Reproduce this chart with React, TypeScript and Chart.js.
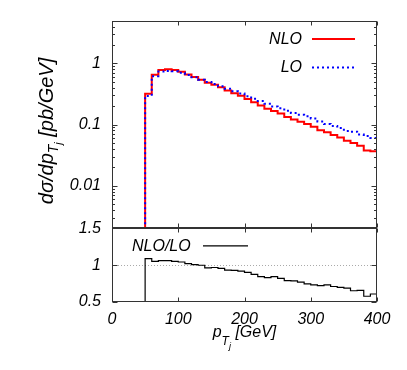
import React, { useEffect, useRef } from "react";
import { Chart, registerables } from "chart.js";

Chart.register(...registerables);

// ---- data (10 GeV bins from 50 to 400 GeV) ----
const BIN_EDGES = [50, 60, 70, 80, 90, 100, 110, 120, 130, 140, 150, 160, 170, 180, 190, 200, 210, 220, 230, 240, 250, 260, 270, 280, 290, 300, 310, 320, 330, 340, 350, 360, 370, 380, 390, 400];

const NLO = [0.32, 0.65, 0.78, 0.80, 0.78, 0.73, 0.66, 0.60, 0.54, 0.48, 0.445, 0.405, 0.36, 0.325, 0.296, 0.262, 0.232, 0.205, 0.181, 0.166, 0.151, 0.133, 0.121, 0.111, 0.102, 0.092, 0.081, 0.0747, 0.0676, 0.0614, 0.0542, 0.0498, 0.045, 0.0375, 0.0366];

const LO = [0.294, 0.617, 0.734, 0.753, 0.741, 0.699, 0.646, 0.595, 0.54, 0.497, 0.459, 0.424, 0.386, 0.35, 0.322, 0.29, 0.265, 0.243, 0.218, 0.197, 0.184, 0.168, 0.154, 0.144, 0.137, 0.126, 0.112, 0.102, 0.095, 0.088, 0.0787, 0.0763, 0.0684, 0.0649, 0.0601];

const RATIO = [1.089, 1.053, 1.062, 1.062, 1.053, 1.044, 1.022, 1.009, 1.0, 0.965, 0.969, 0.956, 0.933, 0.929, 0.92, 0.902, 0.876, 0.844, 0.831, 0.844, 0.822, 0.791, 0.787, 0.769, 0.747, 0.733, 0.724, 0.733, 0.711, 0.698, 0.689, 0.653, 0.658, 0.578, 0.609];

const X_TICKS = [0, 100, 200, 300, 400];
const Y_TOP_TICKS = [0.01, 0.1, 1];
const Y_BOT_TICKS = [0.5, 1, 1.5];

const FONT = "'Liberation Sans', Arial, sans-serif";
const FRAME = "#333333";

function histPoints(vals: number[], floor: number) {
  const pts: { x: number; y: number }[] = [{ x: BIN_EDGES[0], y: floor }];
  vals.forEach((v, i) => pts.push({ x: BIN_EDGES[i], y: v }));
  const last = BIN_EDGES[BIN_EDGES.length - 1];
  pts.push({ x: last, y: vals[vals.length - 1] });
  pts.push({ x: last, y: floor });
  return pts;
}

function logTickList(min: number, max: number) {
  const out: { v: number; major: boolean }[] = [];
  for (let e = -4; e <= 2; e++) {
    for (let k = 1; k <= 9; k++) {
      const v = k * Math.pow(10, e);
      if (v >= min * 0.999 && v <= max * 1.001) out.push({ v, major: k === 1 });
    }
  }
  return out;
}

type Seg = { t: string; size: number; dy: number };

function segWidth(ctx: CanvasRenderingContext2D, segs: Seg[]) {
  let w = 0;
  segs.forEach((s) => {
    ctx.font = `italic ${s.size}px ${FONT}`;
    w += ctx.measureText(s.t).width;
  });
  return w;
}

function drawSegs(ctx: CanvasRenderingContext2D, x: number, y: number, segs: Seg[]) {
  let cx = x;
  segs.forEach((s) => {
    ctx.font = `italic ${s.size}px ${FONT}`;
    ctx.fillText(s.t, cx, y + s.dy);
    cx += ctx.measureText(s.t).width;
  });
}

const Y_TITLE: Seg[] = [
  { t: "dσ/dp", size: 20, dy: 0 },
  { t: "T", size: 14, dy: 5 },
  { t: "j", size: 11, dy: 9 },
  { t: " [pb/GeV]", size: 20, dy: 0 },
];
const X_TITLE: Seg[] = [
  { t: "p", size: 16, dy: 0 },
  { t: "T", size: 12, dy: 8 },
  { t: "j", size: 9, dy: 12 },
  { t: " [GeV]", size: 16, dy: 0 },
];

const tickFont = { family: FONT, size: 16, style: "italic" as const };

const decoPlugin = {
  id: "deco",
  beforeDatasetsDraw(c: any) {
    const { ctx, scales } = c;
    const yb = scales.y2;
    const py = Math.round(yb.getPixelForValue(1)) + 0.5;
    ctx.save();
    ctx.strokeStyle = "#aaaaaa";
    ctx.lineWidth = 1;
    ctx.setLineDash([1, 2]);
    ctx.beginPath();
    ctx.moveTo(scales.x.left, py);
    ctx.lineTo(scales.x.right, py);
    ctx.stroke();
    ctx.restore();
  },
  afterDatasetsDraw(c: any) {
    const { ctx, scales } = c;
    const x = scales.x;
    const L = Math.round(x.left) + 0.5;
    const R = Math.round(x.right) - 0.5;
    ctx.save();
    ctx.strokeStyle = FRAME;
    ctx.lineWidth = 1;
    const panels = [
      { s: scales.y, log: true },
      { s: scales.y2, log: false },
    ];
    panels.forEach(({ s, log }) => {
      const T = Math.round(s.top) + 0.5;
      const B = Math.round(s.bottom) - 0.5;
      ctx.beginPath();
      X_TICKS.forEach((v) => {
        const px = Math.round(x.getPixelForValue(v)) + 0.5;
        ctx.moveTo(px, T);
        ctx.lineTo(px, T + 4);
        ctx.moveTo(px, B);
        ctx.lineTo(px, B - 4);
      });
      const list = log ? logTickList(s.min, s.max) : Y_BOT_TICKS.map((v) => ({ v, major: true }));
      list.forEach(({ v, major }) => {
        const p = Math.round(s.getPixelForValue(v)) + 0.5;
        const len = major ? 5 : 2.5;
        ctx.moveTo(L, p);
        ctx.lineTo(L + len, p);
        ctx.moveTo(R, p);
        ctx.lineTo(R - len, p);
      });
      ctx.stroke();
      ctx.strokeRect(L, T, R - L, B - T);
    });

    // legends
    const yt = scales.y;
    const yb = scales.y2;
    ctx.fillStyle = "#000";
    ctx.font = `italic 16px ${FONT}`;
    ctx.textAlign = "right";
    ctx.textBaseline = "middle";
    ctx.fillText("NLO", x.right - 75, yt.top + 19);
    ctx.fillText("LO", x.right - 75, yt.top + 47);
    ctx.strokeStyle = "#ff0000";
    ctx.lineWidth = 2;
    ctx.beginPath();
    ctx.moveTo(x.right - 65, yt.top + 18.5);
    ctx.lineTo(x.right - 22, yt.top + 18.5);
    ctx.stroke();
    ctx.strokeStyle = "#0000ff";
    ctx.setLineDash([2, 3]);
    ctx.beginPath();
    ctx.moveTo(x.right - 65, yt.top + 47);
    ctx.lineTo(x.right - 22, yt.top + 47);
    ctx.stroke();
    ctx.setLineDash([]);

    ctx.textAlign = "left";
    ctx.fillText("NLO/LO", x.left + 20, yb.top + 18);
    ctx.strokeStyle = "#000";
    ctx.lineWidth = 1.2;
    ctx.beginPath();
    ctx.moveTo(x.left + 91, yb.top + 17.5);
    ctx.lineTo(x.left + 136, yb.top + 17.5);
    ctx.stroke();

    // axis titles
    ctx.textBaseline = "alphabetic";
    const wx = segWidth(ctx, X_TITLE);
    drawSegs(ctx, (x.left + x.right) / 2 - wx / 2, yb.bottom + 35, X_TITLE);

    const wy = segWidth(ctx, Y_TITLE);
    ctx.translate(53, 131);
    ctx.rotate(-Math.PI / 2);
    drawSegs(ctx, -wy / 2, 0, Y_TITLE);
    ctx.restore();
  },
};

export default function App() {
  const ref = useRef<HTMLCanvasElement>(null);
  useEffect(() => {
    const chart = new Chart(ref.current!, {
      type: "line",
      data: {
        datasets: [
          {
            label: "NLO",
            data: histPoints(NLO, 1e-5),
            yAxisID: "y",
            borderColor: "#ff0000",
            borderWidth: 2,
            stepped: "before",
            pointRadius: 0,
            fill: false,
            order: 2,
          },
          {
            label: "LO",
            data: histPoints(LO, 1e-5),
            yAxisID: "y",
            borderColor: "#0000ff",
            borderWidth: 2,
            borderDash: [2, 3],
            stepped: "before",
            pointRadius: 0,
            fill: false,
            order: 1,
          },
          {
            label: "NLO/LO",
            data: histPoints(RATIO, 0),
            yAxisID: "y2",
            borderColor: "#000000",
            borderWidth: 1.2,
            stepped: "before",
            pointRadius: 0,
            fill: false,
            order: 3,
          },
        ],
      },
      options: {
        animation: false,
        responsive: false,
        devicePixelRatio: 1,
        layout: { padding: { left: 0, right: 30, top: 15, bottom: 0 } },
        plugins: { legend: { display: false }, tooltip: { enabled: false } },
        scales: {
          x: {
            type: "linear",
            min: 0,
            max: 400,
            position: "bottom",
            afterBuildTicks: (s: any) => {
              s.ticks = X_TICKS.map((v) => ({ value: v }));
            },
            afterFit: (s: any) => {
              s.height = 68;
            },
            grid: { display: false, drawTicks: false },
            border: { display: false },
            ticks: { autoSkip: false, maxRotation: 0, padding: 8, color: "#000", font: tickFont },
          },
          y2: {
            type: "linear",
            min: 0.5,
            max: 1.5,
            position: "left",
            stack: "panels",
            stackWeight: 75,
            afterBuildTicks: (s: any) => {
              s.ticks = Y_BOT_TICKS.map((v) => ({ value: v }));
            },
            afterFit: (s: any) => {
              s.width = 112;
            },
            grid: { display: false, drawTicks: false },
            border: { display: false },
            ticks: { autoSkip: false, padding: 11, color: "#000", font: tickFont, callback: (v: any) => String(v) },
          },
          y: {
            type: "logarithmic",
            min: 0.002,
            max: 5,
            position: "left",
            stack: "panels",
            stackWeight: 212,
            afterBuildTicks: (s: any) => {
              s.ticks = Y_TOP_TICKS.map((v) => ({ value: v }));
            },
            afterFit: (s: any) => {
              s.width = 112;
            },
            grid: { display: false, drawTicks: false },
            border: { display: false },
            ticks: { autoSkip: false, padding: 11, color: "#000", font: tickFont, callback: (v: any) => String(v) },
          },
        },
      },
      plugins: [decoPlugin],
    } as any);
    return () => chart.destroy();
  }, []);
  return (
    <div style={{ position: "absolute", left: 0, top: 0, width: 407, height: 370, background: "#fff" }}>
      <canvas ref={ref} width={407} height={370} />
    </div>
  );
}
